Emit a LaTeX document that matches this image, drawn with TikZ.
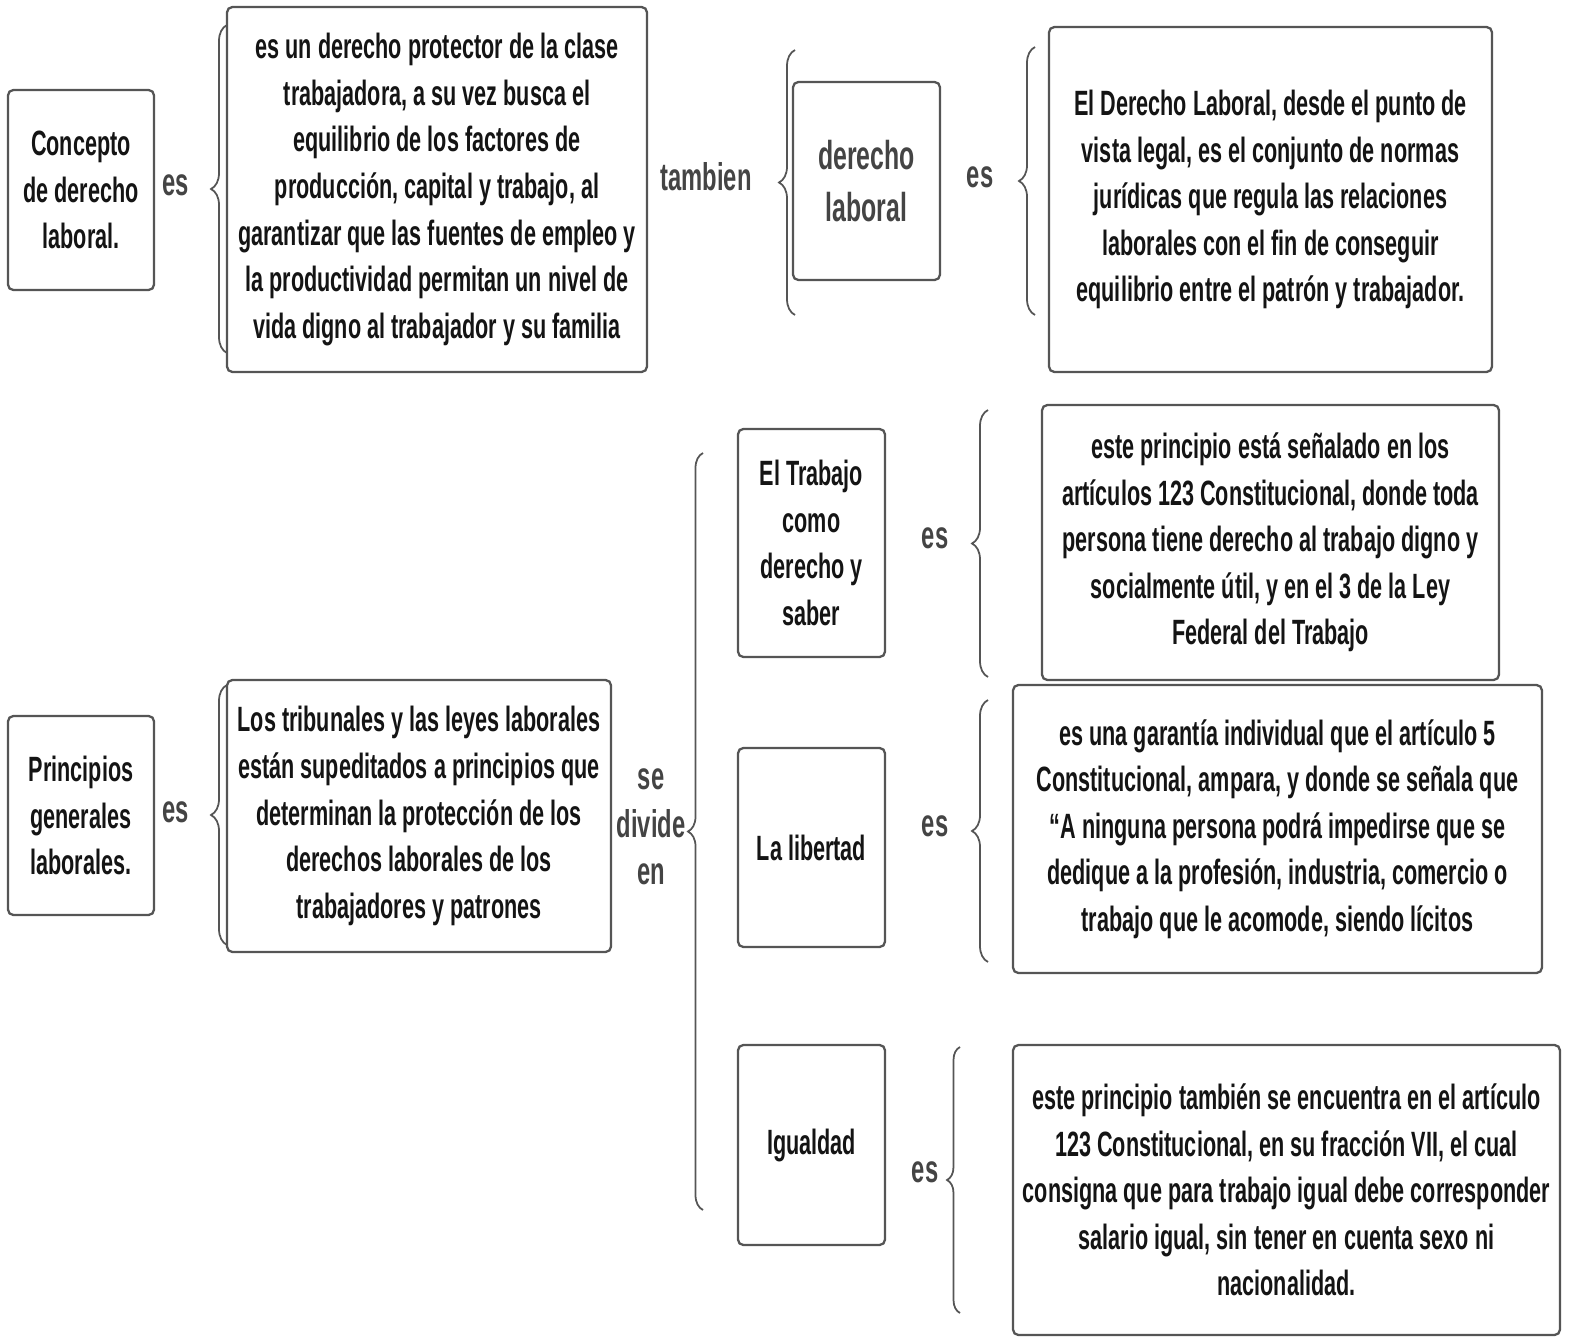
\documentclass[tikz,border=0pt]{standalone}
\usepackage{fontspec}
\setmainfont[FakeStretch=0.615]{Liberation Sans}
\usetikzlibrary{decorations.pathreplacing, positioning}
\definecolor{boxline}{HTML}{555555}
\definecolor{boxtext}{HTML}{141414}
\definecolor{wordgrey}{HTML}{444444}

\begin{document}
\begin{tikzpicture}[
    x=0.02cm, y=-0.02cm,
    box/.style={draw=boxline, line width=1.3pt, rounded corners=3pt, fill=white, align=center, inner sep=0pt, font=\fontsize{20}{26.5}\selectfont\bfseries, text=boxtext},
    word/.style={font=\fontsize{22}{27}\selectfont\bfseries, text=wordgrey, align=center},
    llave/.style={draw=boxline, line width=1pt, decorate, decoration={brace, amplitude=#1}},
    llave/.default=0.32cm,
]
    \useasboundingbox (0,0) rectangle (1573,1339);

    % Concepto
    \node[box, minimum width=2.92cm, minimum height=4cm] (concepto) at (81,190) {Concepto\\de derecho\\laboral.};
    \node[word] (es1) at (176,185) {es};
    \node[box, minimum width=8.4cm, minimum height=7.3cm] (protector) at (437,189.5) {es un derecho protector de la clase\\trabajadora, a su vez busca el\\equilibrio de los factores de\\producción, capital y trabajo, al\\garantizar que las fuentes de empleo y\\la productividad permitan un nivel de\\vida digno al trabajador y su familia};
    \node[word] (tambien) at (706,177) {tambien};
    \node[box, text=wordgrey, font=\fontsize{23}{30}\selectfont\bfseries, minimum width=2.94cm, minimum height=3.96cm] (derecho) at (866.5,181) {derecho\\laboral};
    \node[word] (es2) at (980,177) {es};
    \node[box, minimum width=8.86cm, minimum height=6.9cm] (legal) at (1270.5,199.5) {El Derecho Laboral, desde el punto de\\vista legal, es el conjunto de normas\\jurídicas que regula las relaciones\\laborales con el fin de conseguir\\equilibrio entre el patrón y trabajador.};

    % Principios
    \node[box, minimum width=2.92cm, minimum height=3.98cm] (principios) at (81,815.5) {Principios\\generales\\laborales.};
    \node[word] (es3) at (176,812) {es};
    \node[box, minimum width=7.68cm, minimum height=5.44cm] (tribunales) at (419,816) {Los tribunales y las leyes laborales\\están supeditados a principios que\\determinan la protección de los\\derechos laborales de los\\trabajadores y patrones};
    \node[word] (divide) at (651,827) {se\\divide\\en};

    % Trabajo
    \node[box, minimum width=2.94cm, minimum height=4.56cm] (trabajo) at (811.5,543) {El Trabajo\\como\\derecho y\\saber};
    \node[word] (es4) at (935,538) {es};
    \node[box, minimum width=9.14cm, minimum height=5.5cm] (digno) at (1270.5,542.5) {este principio está señalado en los\\artículos 123 Constitucional, donde toda\\persona tiene derecho al trabajo digno y\\socialmente útil, y en el 3 de la Ley\\Federal del Trabajo};

    % Libertad
    \node[box, minimum width=2.94cm, minimum height=3.98cm] (libertad) at (811.5,847.5) {La libertad};
    \node[word] (es5) at (935,826) {es};
    \node[box, minimum width=10.58cm, minimum height=5.76cm] (garantia) at (1277.5,829) {es una garantía individual que el artículo 5\\Constitucional, ampara, y donde se señala que\\“A ninguna persona podrá impedirse que se\\dedique a la profesión, industria, comercio o\\trabajo que le acomode, siendo lícitos};

    % Igualdad
    \node[box, minimum width=2.94cm, minimum height=4cm] (igualdad) at (811.5,1145) {Igualdad};
    \node[word] (es6) at (925,1172) {es};
    \node[box, minimum width=10.94cm, minimum height=5.8cm] (salario) at (1286.5,1190) {este principio también se encuentra en el artículo\\123 Constitucional, en su fracción VII, el cual\\consigna que para trabajo igual debe corresponder\\salario igual, sin tener en cuenta sexo ni\\nacionalidad.};

    % Llaves
    \draw[llave] (227,353) -- (227,25);
    \draw[llave] (795,315) -- (795,50);
    \draw[llave] (1035,315) -- (1035,47);
    \draw[llave] (227,945) -- (227,685);
    \draw[llave=0.3cm] (703,1210) -- (703,453);
    \draw[llave] (988,677) -- (988,410);
    \draw[llave] (988,962) -- (988,700);
    \draw[llave=0.26cm] (960,1313) -- (960,1047);

\end{tikzpicture}
\end{document}
